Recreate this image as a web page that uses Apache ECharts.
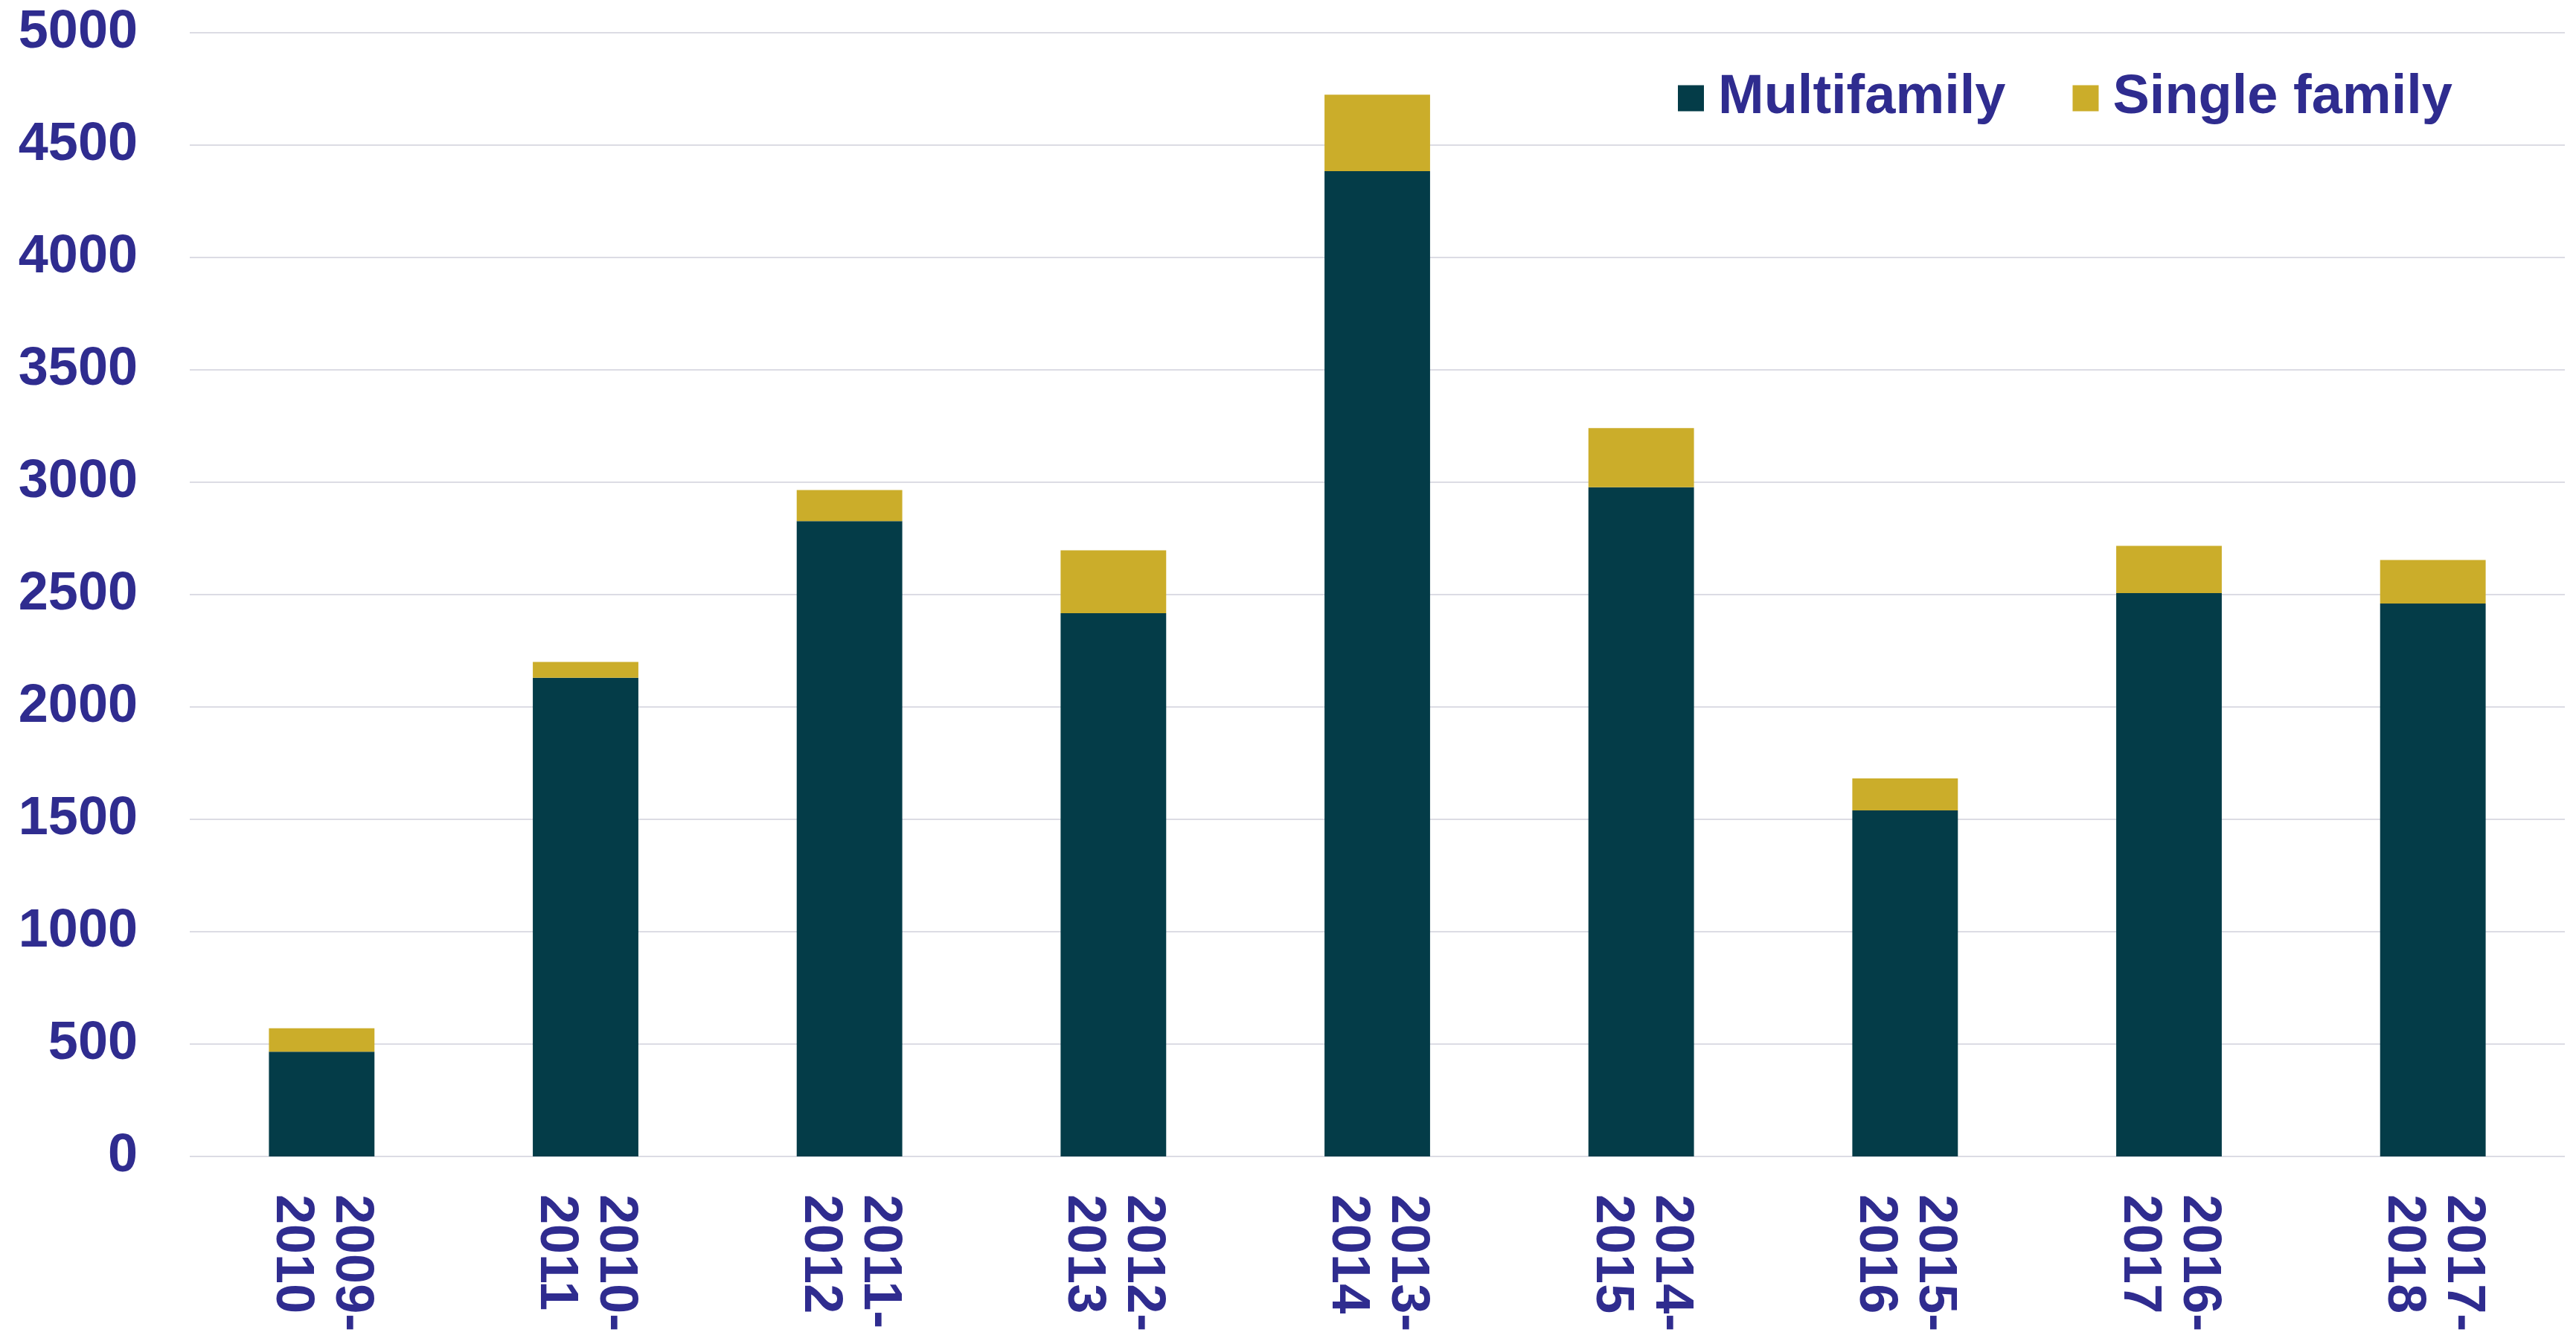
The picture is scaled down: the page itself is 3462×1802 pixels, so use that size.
<!DOCTYPE html>
<html>
<head>
<meta charset="utf-8">
<script src="https://cdn.jsdelivr.net/npm/echarts@6/dist/echarts.min.js"></script>
<style>
    html, body { margin: 0; padding: 0; background: #ffffff; }
    #chart { width: 3462px; height: 1802px; }
</style>
</head>
<body>
<div id="chart"></div>
<script>
// data
const categories = ['2009-\n2010', '2010-\n2011', '2011-\n2012', '2012-\n2013', '2013-\n2014',
    '2014-\n2015', '2015-\n2016', '2016-\n2017', '2017-\n2018'];
const multifamily = [466, 2130, 2827, 2417, 4384, 2978, 1540, 2507, 2460];
const singleFamily = [104, 70, 138, 280, 340, 263, 142, 210, 194];
const yTicks = { min: 0, max: 5000, interval: 500 };

const textColor = '#2f2c8f';
const fontFamily = 'Arial, "Liberation Sans", sans-serif';

document.addEventListener("DOMContentLoaded", function () {
    const chart = echarts.init(document.getElementById('chart'));

    chart.setOption({
        backgroundColor: '#ffffff',
        animation: false,
        grid: {
            left: 255,
            right: 15,
            top: 44,
            bottom: 248
        },
        legend: {
            left: 2250,
            top: 90,
            itemWidth: 35,
            itemHeight: 35,
            itemGap: 90,
            icon: 'rect',
            textStyle: {
                color: textColor,
                fontSize: 74,
                fontWeight: 'bold',
                fontFamily: fontFamily,
                padding: [0, 0, 0, 14]
            },
            data: ['Multifamily', 'Single family']
        },
        xAxis: {
            type: 'category',
            data: categories,
            axisLine: { show: false },
            axisTick: { show: false },
            axisLabel: {
                interval: 0,
                rotate: -90,
                margin: 51,
                color: textColor,
                fontSize: 72,
                lineHeight: 80,
                fontWeight: 'bold',
                fontFamily: fontFamily
            }
        },
        yAxis: {
            type: 'value',
            min: yTicks.min,
            max: yTicks.max,
            interval: yTicks.interval,
            axisLine: { show: false },
            axisTick: { show: false },
            splitLine: {
                lineStyle: { color: '#dcdce4', width: 2 }
            },
            axisLabel: {
                margin: 70,
                color: textColor,
                fontSize: 72,
                fontWeight: 'bold',
                fontFamily: fontFamily,
                formatter: function (v) { return String(v); }
            }
        },
        series: [
            {
                name: 'Multifamily',
                type: 'bar',
                stack: 'total',
                barWidth: '40%',
                itemStyle: { color: '#043c48' },
                data: multifamily
            },
            {
                name: 'Single family',
                type: 'bar',
                stack: 'total',
                itemStyle: { color: '#cbad2a' },
                data: singleFamily
            }
        ]
    });
});
</script>
</body>
</html>
